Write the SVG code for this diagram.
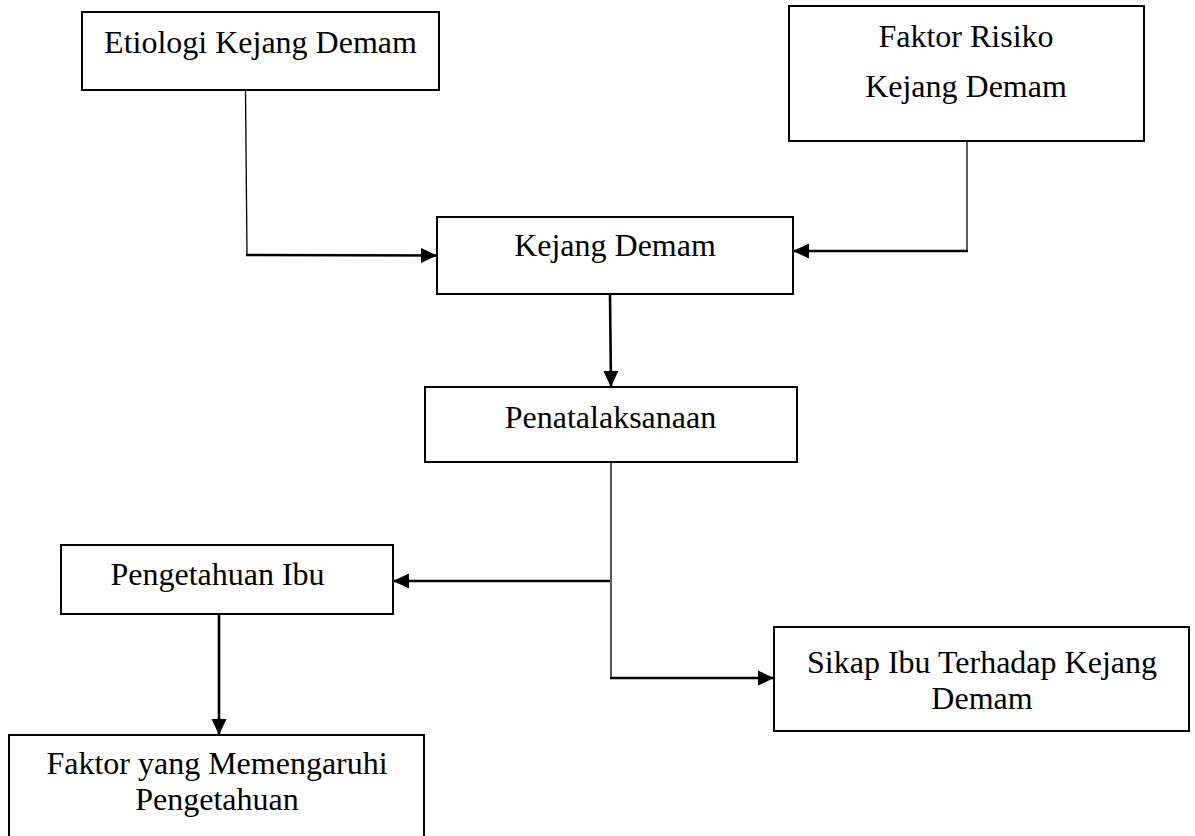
<svg xmlns="http://www.w3.org/2000/svg" width="1195" height="836" viewBox="0 0 1195 836">
<style>
.box{fill:#fff;stroke:#000;stroke-width:2}
.t{font-family:"Liberation Serif","Times New Roman",serif;font-size:32px;fill:#000;text-anchor:middle}
.thin{fill:none;stroke:#000;stroke-width:1.3}
.thick{fill:none;stroke:#000;stroke-width:2.6}
</style>
<defs>
<marker id="ah" markerUnits="userSpaceOnUse" markerWidth="18" markerHeight="18" viewBox="0 0 18 18" refX="16" refY="9" orient="auto">
<path d="M0,1.5 L16,9 L0,16.5 Z" fill="#000"/>
</marker>
</defs>
<rect width="1195" height="836" fill="#fff"/>
<g id="connectors">
<path class="thin" d="M245.5,90 L247,255"/>
<path class="thick" d="M246,255 L437,255.5" marker-end="url(#ah)"/>
<path class="thin" d="M967,141 L967,251"/>
<path class="thick" d="M968,251 L793,251" marker-end="url(#ah)"/>
<path class="thick" d="M610,294 L611,387" marker-end="url(#ah)"/>
<path class="thin" d="M611,462 L611,679"/>
<path class="thick" d="M610,581 L393,581" marker-end="url(#ah)"/>
<path class="thick" d="M610,678 L774,678" marker-end="url(#ah)"/>
<path class="thick" d="M219,614 L219,735" marker-end="url(#ah)"/>
</g>
<g id="etiologi">
<rect class="box" x="82" y="12" width="357" height="78"/>
<text class="t" x="260.5" y="53">Etiologi Kejang Demam</text>
</g>
<g id="faktor-risiko">
<rect class="box" x="789" y="6" width="355" height="135"/>
<text class="t" x="966" y="47">Faktor Risiko</text>
<text class="t" x="966" y="97">Kejang Demam</text>
</g>
<g id="kejang-demam">
<rect class="box" x="437" y="217" width="356" height="77"/>
<text class="t" x="615" y="256">Kejang Demam</text>
</g>
<g id="penatalaksanaan">
<rect class="box" x="425" y="387" width="372" height="75"/>
<text class="t" x="610.5" y="428">Penatalaksanaan</text>
</g>
<g id="pengetahuan-ibu">
<rect class="box" x="61" y="545" width="332" height="69"/>
<text class="t" x="217.5" y="585">Pengetahuan Ibu</text>
</g>
<g id="sikap-ibu">
<rect class="box" x="774" y="627" width="415" height="104"/>
<text class="t" x="982" y="673">Sikap Ibu Terhadap Kejang</text>
<text class="t" x="982" y="709">Demam</text>
</g>
<g id="faktor-pengetahuan">
<rect class="box" x="9" y="735" width="415" height="110"/>
<text class="t" x="217" y="774">Faktor yang Memengaruhi</text>
<text class="t" x="217" y="810">Pengetahuan</text>
</g>
</svg>
